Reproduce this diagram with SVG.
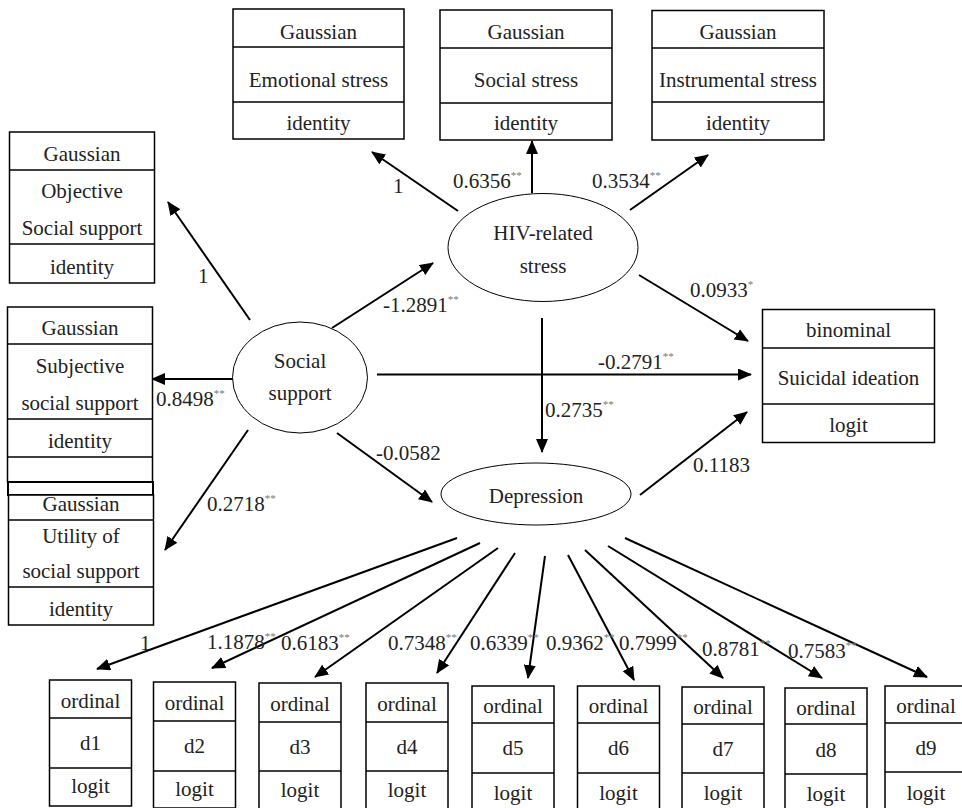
<svg xmlns="http://www.w3.org/2000/svg" width="962" height="808" viewBox="0 0 962 808" font-family="'Liberation Serif', 'Times New Roman', 'DejaVu Serif', serif">
<defs>
<marker id="ah" markerWidth="14" markerHeight="12" refX="13" refY="6" orient="auto" markerUnits="userSpaceOnUse"><path d="M0,0 L14,6 L0,12 z" fill="#000"/></marker>
<style>
text { font-family: 'Liberation Serif', 'Times New Roman', 'DejaVu Serif', serif; font-size: 21px; fill: #222; }
.c { text-anchor: middle; }
.s { font-size: 11px; fill: #777; }
.bx { fill: #fff; stroke: #000; stroke-width: 1.5; }
.ln { stroke: #000; stroke-width: 1.5; }
.el { fill: #fff; stroke: #000; stroke-width: 1; }
.ar { stroke: #000; stroke-width: 2; fill: none; marker-end: url(#ah); }
</style>
</defs>
<rect width="962" height="808" fill="#fff"/>
<g id="connectors">
<line class="ar" x1="458" y1="211" x2="372" y2="152"/>
<line class="ar" x1="532" y1="193" x2="532" y2="141"/>
<line class="ar" x1="630" y1="210" x2="708" y2="155"/>
<line class="ar" x1="639" y1="275" x2="748" y2="341"/>
<line class="ar" x1="542" y1="318" x2="542" y2="452"/>
<line class="ar" x1="332" y1="328" x2="433" y2="263"/>
<line class="ar" x1="250" y1="320" x2="168" y2="202"/>
<line class="ar" x1="233" y1="379" x2="152" y2="379"/>
<line class="ar" x1="248" y1="430" x2="165" y2="550"/>
<line class="ar" x1="377" y1="374.5" x2="751" y2="374.5"/>
<line class="ar" x1="337" y1="433" x2="432" y2="502"/>
<line class="ar" x1="640" y1="495" x2="747" y2="412"/>
<line class="ar" x1="457" y1="538" x2="97" y2="669"/>
<line class="ar" x1="480" y1="543" x2="212" y2="668"/>
<line class="ar" x1="498" y1="548" x2="315" y2="677"/>
<line class="ar" x1="515" y1="553" x2="437" y2="673"/>
<line class="ar" x1="545" y1="556" x2="528" y2="678"/>
<line class="ar" x1="568" y1="555" x2="634" y2="680"/>
<line class="ar" x1="585" y1="550" x2="723" y2="678"/>
<line class="ar" x1="608" y1="546" x2="822" y2="678"/>
<line class="ar" x1="625" y1="538" x2="927" y2="677"/>
<text x="393" y="193">1</text>
<text x="453" y="188">0.6356<tspan class="s" dy="-9">**</tspan></text>
<text x="592" y="188">0.3534<tspan class="s" dy="-9">**</tspan></text>
<text x="690" y="297">0.0933<tspan class="s" dy="-9">*</tspan></text>
<text x="383" y="312">-1.2891<tspan class="s" dy="-9">**</tspan></text>
<text x="545" y="417">0.2735<tspan class="s" dy="-9">**</tspan></text>
<text x="598" y="369">-0.2791<tspan class="s" dy="-9">**</tspan></text>
<text x="198" y="283">1</text>
<text x="156" y="406">0.8498<tspan class="s" dy="-9">**</tspan></text>
<text x="207" y="511">0.2718<tspan class="s" dy="-9">**</tspan></text>
<text x="376" y="460">-0.0582</text>
<text x="693" y="472">0.1183</text>
<text x="140" y="650">1</text>
<text x="207" y="649">1.1878<tspan class="s" dy="-9">**</tspan></text>
<text x="281" y="650">0.6183<tspan class="s" dy="-9">**</tspan></text>
<text x="388" y="650">0.7348<tspan class="s" dy="-9">**</tspan></text>
<text x="470" y="650">0.6339<tspan class="s" dy="-9">**</tspan></text>
<text x="546" y="650">0.9362<tspan class="s" dy="-9">**</tspan></text>
<text x="619" y="650">0.7999<tspan class="s" dy="-9">**</tspan></text>
<text x="702" y="656">0.8781<tspan class="s" dy="-9">**</tspan></text>
<text x="788" y="658">0.7583<tspan class="s" dy="-9">**</tspan></text>
</g>
<g id="emotional">
<rect class="bx" x="233" y="9" width="171" height="130"/>
<line class="ln" x1="233" y1="47" x2="404" y2="47"/>
<line class="ln" x1="233" y1="102" x2="404" y2="102"/>
<text class="c" x="318.5" y="39">Gaussian</text>
<text class="c" x="318.5" y="87">Emotional stress</text>
<text class="c" x="318.5" y="130">identity</text>
</g>
<g id="social-stress">
<rect class="bx" x="440" y="10" width="172" height="130"/>
<line class="ln" x1="440" y1="48" x2="612" y2="48"/>
<line class="ln" x1="440" y1="103" x2="612" y2="103"/>
<text class="c" x="526" y="39">Gaussian</text>
<text class="c" x="526" y="87">Social stress</text>
<text class="c" x="526" y="130">identity</text>
</g>
<g id="instrumental">
<rect class="bx" x="652" y="10.5" width="172" height="129.5"/>
<line class="ln" x1="652" y1="48" x2="824" y2="48"/>
<line class="ln" x1="652" y1="102" x2="824" y2="102"/>
<text class="c" x="738" y="39">Gaussian</text>
<text class="c" x="738" y="87">Instrumental stress</text>
<text class="c" x="738" y="130">identity</text>
</g>
<g id="objective">
<rect class="bx" x="9.5" y="132" width="145" height="151"/>
<line class="ln" x1="9.5" y1="170" x2="154.5" y2="170"/>
<line class="ln" x1="9.5" y1="244" x2="154.5" y2="244"/>
<text class="c" x="82" y="161">Gaussian</text>
<text class="c" x="82" y="198">Objective</text>
<text class="c" x="82" y="235">Social support</text>
<text class="c" x="82" y="274">identity</text>
</g>
<g id="subjective">
<rect class="bx" x="7.5" y="307" width="145" height="175"/>
<line class="ln" x1="7.5" y1="344" x2="152.5" y2="344"/>
<line class="ln" x1="7.5" y1="419" x2="152.5" y2="419"/>
<line class="ln" x1="7.5" y1="457" x2="152.5" y2="457"/>
<text class="c" x="80" y="335">Gaussian</text>
<text class="c" x="80" y="373">Subjective</text>
<text class="c" x="80" y="410">social support</text>
<text class="c" x="80" y="448">identity</text>
</g>
<g id="utility">
<rect x="8" y="482" width="145" height="13" fill="#fff" stroke="#000" stroke-width="2"/>
<rect class="bx" x="8.5" y="495" width="145" height="130"/>
<line class="ln" x1="8.5" y1="520" x2="153.5" y2="520"/>
<line class="ln" x1="8.5" y1="587" x2="153.5" y2="587"/>
<text class="c" x="81" y="511">Gaussian</text>
<text class="c" x="81" y="543">Utility of</text>
<text class="c" x="81" y="578">social support</text>
<text class="c" x="81" y="616">identity</text>
</g>
<g id="hiv-stress">
<ellipse class="el" cx="543" cy="247.5" rx="95" ry="54"/>
<text class="c" x="543" y="240">HIV-related</text>
<text class="c" x="543" y="273">stress</text>
</g>
<g id="social-support">
<ellipse class="el" cx="300" cy="377.5" rx="67.5" ry="55.5"/>
<text class="c" x="300" y="368">Social</text>
<text class="c" x="300" y="400">support</text>
</g>
<g id="depression">
<ellipse class="el" cx="536" cy="494" rx="95" ry="31"/>
<text class="c" x="536" y="503">Depression</text>
</g>
<g id="suicidal">
<rect class="bx" x="762.5" y="309.5" width="172" height="133"/>
<line class="ln" x1="762.5" y1="348" x2="934.5" y2="348"/>
<line class="ln" x1="762.5" y1="404" x2="934.5" y2="404"/>
<text class="c" x="848.5" y="337">binominal</text>
<text class="c" x="848.5" y="385">Suicidal ideation</text>
<text class="c" x="848.5" y="432">logit</text>
</g>
<g id="d1"><rect class="bx" x="49.5" y="680" width="82" height="126"/><line class="ln" x1="49.5" y1="718" x2="132" y2="718"/><line class="ln" x1="49.5" y1="768" x2="132" y2="768"/><text class="c" x="90.5" y="708">ordinal</text><text class="c" x="90.5" y="750">d1</text><text class="c" x="90.5" y="793">logit</text></g>
<g id="d2"><rect class="bx" x="153.5" y="682" width="82" height="126"/><line class="ln" x1="153.5" y1="721" x2="235.5" y2="721"/><line class="ln" x1="153.5" y1="771" x2="235.5" y2="771"/><text class="c" x="194.5" y="710">ordinal</text><text class="c" x="194.5" y="753">d2</text><text class="c" x="194.5" y="796">logit</text></g>
<g id="d3"><rect class="bx" x="259" y="683" width="82" height="126"/><line class="ln" x1="259" y1="722" x2="341" y2="722"/><line class="ln" x1="259" y1="771" x2="341" y2="771"/><text class="c" x="300" y="711">ordinal</text><text class="c" x="300" y="754">d3</text><text class="c" x="300" y="797">logit</text></g>
<g id="d4"><rect class="bx" x="366" y="683" width="82" height="126"/><line class="ln" x1="366" y1="722" x2="448" y2="722"/><line class="ln" x1="366" y1="771" x2="448" y2="771"/><text class="c" x="407" y="711">ordinal</text><text class="c" x="407" y="754">d4</text><text class="c" x="407" y="797">logit</text></g>
<g id="d5"><rect class="bx" x="472" y="686" width="82" height="126"/><line class="ln" x1="472" y1="723" x2="554" y2="723"/><line class="ln" x1="472" y1="773" x2="554" y2="773"/><text class="c" x="513" y="713">ordinal</text><text class="c" x="513" y="755">d5</text><text class="c" x="513" y="800">logit</text></g>
<g id="d6"><rect class="bx" x="577.5" y="686" width="82" height="126"/><line class="ln" x1="577.5" y1="723" x2="659.5" y2="723"/><line class="ln" x1="577.5" y1="773" x2="659.5" y2="773"/><text class="c" x="618.5" y="713">ordinal</text><text class="c" x="618.5" y="755">d6</text><text class="c" x="618.5" y="800">logit</text></g>
<g id="d7"><rect class="bx" x="682" y="687" width="82" height="126"/><line class="ln" x1="682" y1="724" x2="764" y2="724"/><line class="ln" x1="682" y1="773" x2="764" y2="773"/><text class="c" x="723" y="714">ordinal</text><text class="c" x="723" y="756">d7</text><text class="c" x="723" y="800">logit</text></g>
<g id="d8"><rect class="bx" x="785" y="688" width="82" height="126"/><line class="ln" x1="785" y1="724" x2="867" y2="724"/><line class="ln" x1="785" y1="774" x2="867" y2="774"/><text class="c" x="826" y="715">ordinal</text><text class="c" x="826" y="757">d8</text><text class="c" x="826" y="801">logit</text></g>
<g id="d9"><rect class="bx" x="885" y="686" width="82" height="126"/><line class="ln" x1="885" y1="723" x2="967" y2="723"/><line class="ln" x1="885" y1="772" x2="967" y2="772"/><text class="c" x="926" y="713">ordinal</text><text class="c" x="926" y="755">d9</text><text class="c" x="926" y="800">logit</text></g>
</svg>
